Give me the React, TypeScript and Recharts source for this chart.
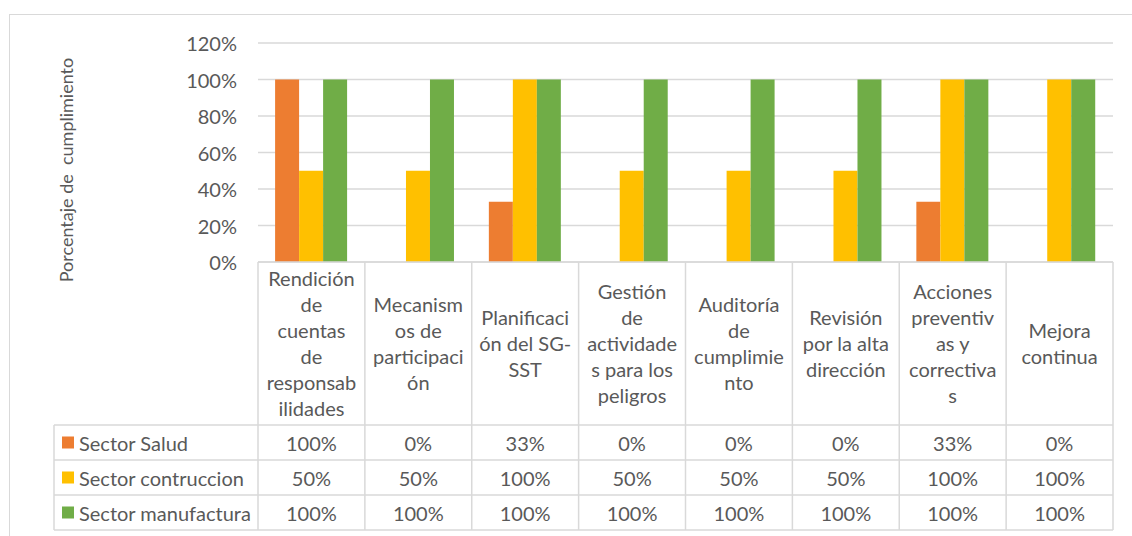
import { BarChart, Bar, XAxis, YAxis, CartesianGrid, Customized } from 'recharts'

// categorías (etiquetas del encabezado de la tabla, con los cortes de línea del original)
const categoryLines = [
  ['Rendición', 'de', 'cuentas', 'de', 'responsab', 'ilidades'],
  ['Mecanism', 'os de', 'participaci', 'ón'],
  ['Planificaci', 'ón del SG-', 'SST'],
  ['Gestión', 'de', 'actividade', 's para los', 'peligros'],
  ['Auditoría', 'de', 'cumplimie', 'nto'],
  ['Revisión', 'por la alta', 'dirección'],
  ['Acciones', 'preventiv', 'as y', 'correctiva', 's'],
  ['Mejora', 'continua'],
]
const categories = categoryLines.map((l) => l.join(' '))

const seriesNames = ['Sector Salud', 'Sector contruccion', 'Sector manufactura']
const seriesKeys = ['salud', 'construccion', 'manufactura']
const seriesColors = ['#ED7D31', '#FFC000', '#70AD47']

const salud = [1, 0, 0.33, 0, 0, 0, 0.33, 0]
const construccion = [0.5, 0.5, 1, 0.5, 0.5, 0.5, 1, 1]
const manufactura = [1, 1, 1, 1, 1, 1, 1, 1]
const seriesValues = [salud, construccion, manufactura]

const yTicks = [0, 0.2, 0.4, 0.6, 0.8, 1, 1.2]
const yTitle = 'Porcentaje de  cumplimiento'

const data = categories.map((cat, i) => ({
  cat,
  salud: salud[i],
  construccion: construccion[i],
  manufactura: manufactura[i],
}))

// layout
const W = 1132
const H = 536
const PLOT_LEFT = 258
const PLOT_RIGHT = 1113
const PLOT_TOP = 43
const PLOT_BOTTOM = 262
const HEADER_BOTTOM = 425
const ROW_H = 35
const TABLE_LEFT = 54
const LINE_H = 26
const FONT = 'Lato, "Liberation Sans", sans-serif'
const TEXT = '#595959'
const GRID = '#d9d9d9'
const FS = 20

const pct = (v: number) => `${Math.round(v * 100)}%`

function CategoryTick(props: any) {
  const { x, index } = props
  const bw = (PLOT_RIGHT - PLOT_LEFT) / categories.length
  const left = x - bw / 2
  const right = x + bw / 2
  const lines = categoryLines[index] || []
  const mid = (PLOT_BOTTOM + HEADER_BOTTOM) / 2 - 1
  const firstY = mid - ((lines.length - 1) * LINE_H) / 2
  const bottom = HEADER_BOTTOM + ROW_H * seriesNames.length
  return (
    <g>
      <line x1={left} x2={left} y1={PLOT_BOTTOM} y2={bottom} stroke={GRID} strokeWidth={1.5} />
      {index === categories.length - 1 && (
        <line x1={right} x2={right} y1={PLOT_BOTTOM} y2={bottom} stroke={GRID} strokeWidth={1.5} />
      )}
      {lines.map((l, i) => (
        <text
          key={i}
          x={x}
          y={firstY + i * LINE_H}
          textAnchor="middle"
          dominantBaseline="central"
          fill={TEXT}
          fontSize={FS}
          fontFamily={FONT}
        >
          {l}
        </text>
      ))}
      {seriesValues.map((vals, r) => (
        <text
          key={'v' + r}
          x={x}
          y={HEADER_BOTTOM + ROW_H * r + ROW_H / 2}
          textAnchor="middle"
          dominantBaseline="central"
          fill={TEXT}
          fontSize={FS}
          fontFamily={FONT}
        >
          {pct(vals[index])}
        </text>
      ))}
    </g>
  )
}

function PercentTick(props: any) {
  const { y, payload } = props
  return (
    <text
      x={PLOT_LEFT - 21}
      y={y}
      textAnchor="end"
      dominantBaseline="central"
      fill={TEXT}
      fontSize={FS}
      fontFamily={FONT}
    >
      {pct(payload.value)}
    </text>
  )
}

function LegendColumn() {
  const bottom = HEADER_BOTTOM + ROW_H * seriesNames.length
  return (
    <g>
      {[0, 1, 2, 3].map((r) => (
        <line
          key={r}
          x1={TABLE_LEFT}
          x2={PLOT_RIGHT}
          y1={HEADER_BOTTOM + ROW_H * r}
          y2={HEADER_BOTTOM + ROW_H * r}
          stroke={GRID}
          strokeWidth={1.5}
        />
      ))}
      <line x1={TABLE_LEFT} x2={TABLE_LEFT} y1={HEADER_BOTTOM} y2={bottom} stroke={GRID} strokeWidth={1.5} />
      {seriesNames.map((name, r) => {
        const cy = HEADER_BOTTOM + ROW_H * r + ROW_H / 2
        return (
          <g key={name}>
            <rect x={62} y={cy - 6} width={12} height={12} fill={seriesColors[r]} />
            <text x={79} y={cy} dominantBaseline="central" fill={TEXT} fontSize={FS} fontFamily={FONT}>
              {name}
            </text>
          </g>
        )
      })}
      <text
        x={66}
        y={170}
        transform="rotate(-90, 66, 170)"
        textAnchor="middle"
        dominantBaseline="central"
        fill={TEXT}
        fontSize={18}
        fontFamily={FONT}
        style={{ whiteSpace: 'pre' }}
      >
        {yTitle}
      </text>
    </g>
  )
}

export default function App() {
  return (
    <div
      style={{
        position: 'fixed',
        left: 0,
        top: 0,
        width: W,
        height: H,
        overflow: 'hidden',
        background: '#fff',
        fontFamily: FONT,
      }}
    >
      <div
        style={{
          position: 'absolute',
          left: 9,
          top: 14,
          width: 1300,
          height: 700,
          borderTop: `1.5px solid ${GRID}`,
          borderLeft: `1.5px solid ${GRID}`,
        }}
      />
      <div style={{ position: 'absolute', left: 0, top: 0 }}>
        <BarChart
          width={W}
          height={H}
          data={data}
          margin={{ top: PLOT_TOP, right: W - PLOT_RIGHT, bottom: 0, left: 0 }}
          barGap={0}
          barCategoryGap="16%"
        >
          <CartesianGrid vertical={false} stroke={GRID} strokeWidth={1.5} />
          <XAxis
            dataKey="cat"
            height={H - PLOT_BOTTOM}
            axisLine={{ stroke: GRID, strokeWidth: 1.5 }}
            tickLine={false}
            interval={0}
            tick={<CategoryTick />}
          />
          <YAxis
            width={PLOT_LEFT}
            domain={[0, 1.2]}
            ticks={yTicks}
            axisLine={false}
            tickLine={false}
            tick={<PercentTick />}
          />
          {seriesKeys.map((k, i) => (
            <Bar key={k} dataKey={k} name={seriesNames[i]} fill={seriesColors[i]} isAnimationActive={false} />
          ))}
          <Customized component={<LegendColumn />} />
        </BarChart>
      </div>
    </div>
  )
}
